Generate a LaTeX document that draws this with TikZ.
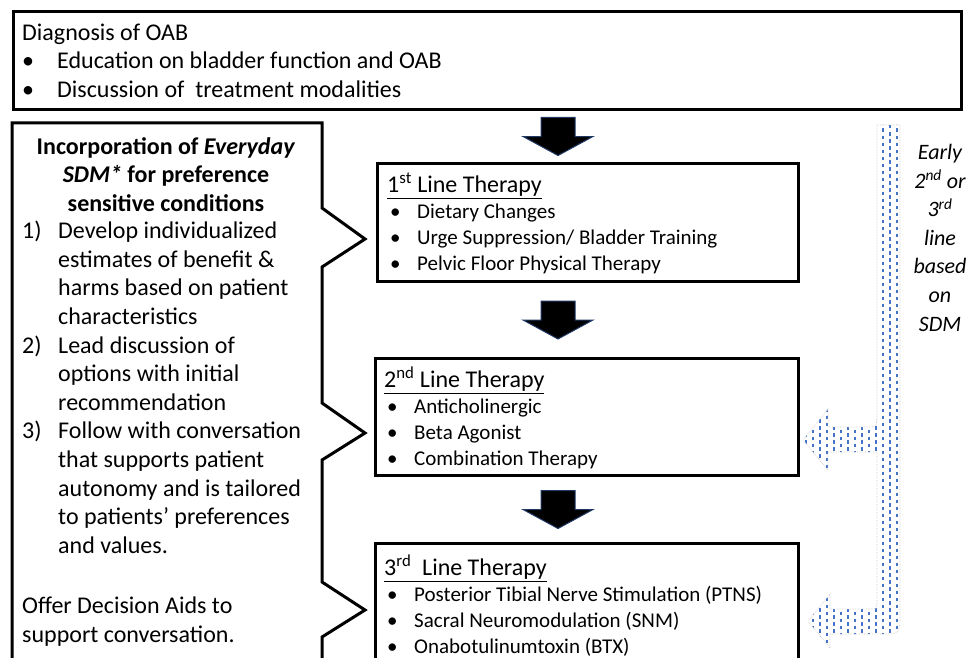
\documentclass[tikz,border=0pt]{standalone}
\usepackage{fontspec}
\setmainfont{Carlito}
\usetikzlibrary{calc}
\definecolor{sdmblue}{RGB}{68, 114, 196}
\definecolor{arrownavy}{RGB}{31, 56, 100}

\begin{document}
\begin{tikzpicture}[x=1pt, y=-1pt,
    box/.style={draw, line width=3pt, inner sep=0pt, anchor=north west},
    bigtxt/.style={font=\fontsize{24}{28.6}\selectfont, inner sep=0pt},
    linetxt/.style={font=\fontsize{21}{25.8}\selectfont, inner sep=0pt, align=left, anchor=west},
    blockdown/.pic={\filldraw[fill=black, draw=arrownavy, line width=1pt]
      (-17,-19) -- (17,-19) -- (17,0) -- (35,0) -- (0,19) -- (-35,0) -- (-17,0) -- cycle;}]
  \useasboundingbox (0,0) rectangle (971,658);
  \clip (0,0) rectangle (971,658);
  \def\titem#1{\hspace*{3pt}\makebox[27pt][l]{\textbullet}#1}
  \def\ttitle#1{{\fontsize{24}{25.8}\selectfont\underline{#1}}}

  % top box
  \node[box, minimum width=948pt, minimum height=98pt] (diag) at (12,10) {};
  \node[bigtxt, align=left, anchor=west] (diagtxt) at ($(diag.west)+(10,0)$)
    {Diagnosis of OAB\\
     \makebox[35pt][l]{\textbullet}Education on bladder function and OAB\\
     \makebox[35pt][l]{\textbullet}Discussion of\ \ treatment modalities};

  % therapy lines
  \node[box, minimum width=421pt, minimum height=118pt] (line1) at (376,162) {};
  \node[box, minimum width=423pt, minimum height=117pt] (line2) at (374,357) {};
  \node[box, minimum width=423pt, minimum height=122pt] (line3) at (374,542) {};
  \node[linetxt] (line1txt) at ($(line1.west)+(11,1)$)
    {\ttitle{1\textsuperscript{st} Line Therapy}\\
     \titem{Dietary Changes}\\
     \titem{Urge Suppression/ Bladder Training}\\
     \titem{Pelvic Floor Physical Therapy}};
  \node[linetxt] (line2txt) at ($(line2.west)+(10,1)$)
    {\ttitle{2\textsuperscript{nd} Line Therapy}\\
     \titem{Anticholinergic}\\
     \titem{Beta Agonist}\\
     \titem{Combination Therapy}};
  \node[linetxt] (line3txt) at ($(line3.west)+(10,1)$)
    {\ttitle{3\textsuperscript{rd}\ \ Line Therapy}\\
     \titem{Posterior Tibial Nerve Stimulation (PTNS)}\\
     \titem{Sacral Neuromodulation (SNM)}\\
     \titem{Onabotulinumtoxin (BTX)}};

  \coordinate (ax) at (558,0);
  \pic at ($(ax |- diag.south)!0.5!(ax |- line1.north)$) {blockdown};
  \pic at ($(ax |- line1.south)!0.5!(ax |- line2.north)$) {blockdown};
  \pic at ($(ax |- line2.south)!0.5!(ax |- line3.north)$) {blockdown};

  % SDM callout
  \draw[line width=3pt, line join=miter] (12,123) -- (322,123) -- (322,208) -- (365,239) -- (322,267)
    -- (322,403) -- (365,433) -- (322,460) -- (322,582) -- (365,610) -- (322,637) -- (322,680)
    -- (12,680) -- cycle;
  \node[bigtxt, font=\fontsize{24}{28.6}\selectfont\bfseries, align=center, anchor=north] (sdmhead) at (166,137)
    {Incorporation of \textit{Everyday}\\\textit{SDM*} for preference\\sensitive conditions};
  \node[bigtxt, align=left, anchor=north west] (sdmlist) at (22,221)
    {\makebox[36pt][l]{1)}Develop individualized\\
     \hspace*{36pt}estimates of benefit \&\\
     \hspace*{36pt}harms based on patient\\
     \hspace*{36pt}characteristics\\
     \makebox[36pt][l]{2)}Lead discussion of\\
     \hspace*{36pt}options with initial\\
     \hspace*{36pt}recommendation\\
     \makebox[36pt][l]{3)}Follow with conversation\\
     \hspace*{36pt}that supports patient\\
     \hspace*{36pt}autonomy and is tailored\\
     \hspace*{36pt}to patients’ preferences\\
     \hspace*{36pt}and values.};
  \node[bigtxt, align=left, anchor=north west] (sdmaid) at (22,597)
    {Offer Decision Aids to\\support conversation.};

  % early switch arrow
  \def\earlypath{(877,125) -- (900,125) -- (900,614) .. controls (900,634) .. (880,634) -- (830,634)
    -- (830,648) -- (808,621) -- (830,594) -- (830,609) -- (870,609) .. controls (877,609) .. (877,602)
    -- (877,452) -- (828,452) -- (828,470) -- (803,440) -- (828,409) -- (828,427) -- (865,427)
    .. controls (877,427) .. (877,415) -- cycle}
  \begin{scope}
    \clip \earlypath;
    \foreach \x [count=\i] in {799,806,...,906}{
      \pgfmathsetmacro\ph{mod(\i,2)*3.5}
      \draw[sdmblue, line width=1.4pt, dash pattern=on 3.5pt off 3.5pt, dash phase=\ph pt] (\x,118) -- (\x,660);
    }
  \end{scope}
  \draw[gray!45, densely dotted, line width=0.6pt] \earlypath;
  \node[bigtxt, font=\fontsize{22}{28.6}\selectfont\itshape, align=center, anchor=north] (early) at (940,144)
    {Early\\2\textsuperscript{nd} or\\3\textsuperscript{rd}\\line\\based\\on\\SDM};
\end{tikzpicture}
\end{document}
